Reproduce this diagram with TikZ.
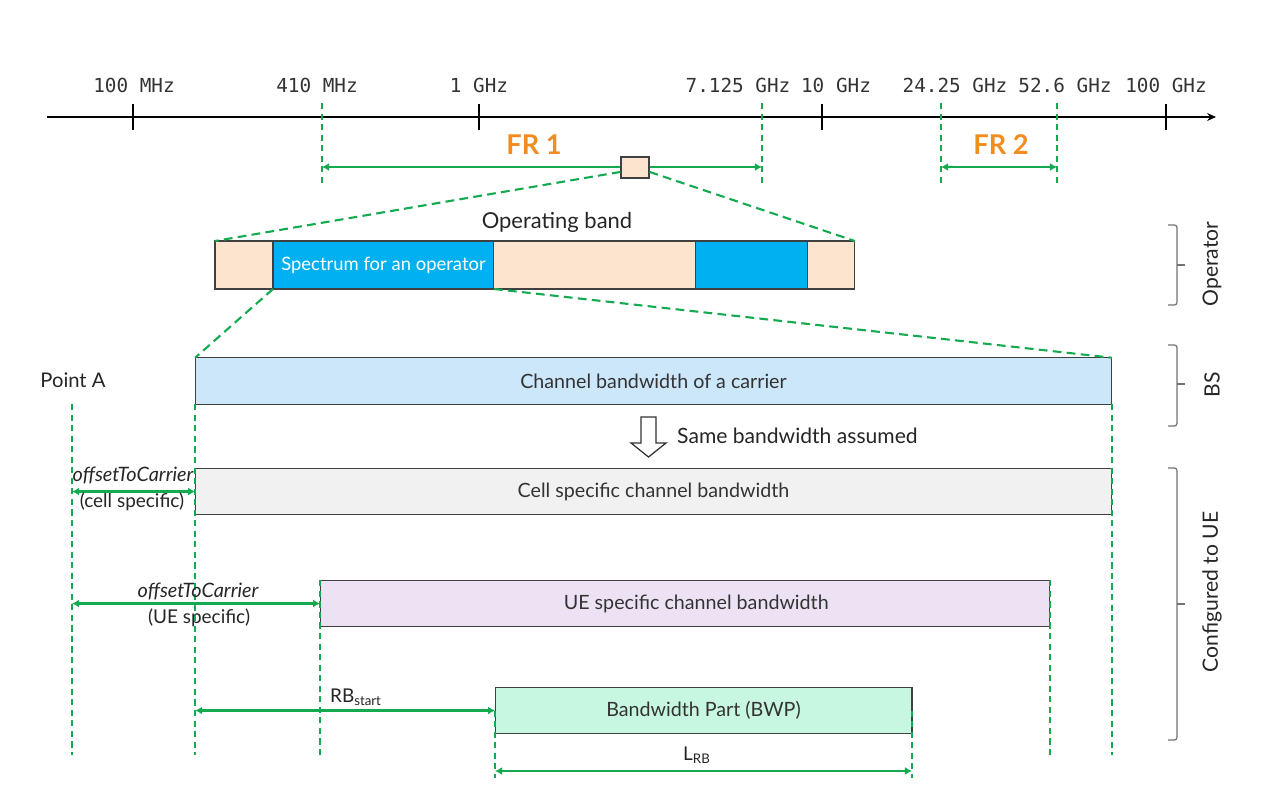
\documentclass[tikz,border=0pt]{standalone}
\usepackage{fontspec}
\setmainfont{Lato}
\newfontfamily\axfont{DejaVu Sans Mono}
\usetikzlibrary{calc, positioning, arrows.meta}

\definecolor{gline}{RGB}{20,170,80}
\definecolor{frorange}{RGB}{242,140,30}
\definecolor{peach}{RGB}{252,228,206}
\definecolor{opblue}{RGB}{0,176,240}
\definecolor{chblue}{RGB}{204,230,250}
\definecolor{cellgray}{RGB}{241,241,241}
\definecolor{uelilac}{RGB}{236,226,244}
\definecolor{bwpmint}{RGB}{199,247,224}
\definecolor{edge}{RGB}{64,64,64}

\tikzset{
  band/.style = {draw=edge, line width=0.6pt, minimum height=0.96cm,
      outer sep=0pt, inner sep=0pt},
  bwbox/.style = {draw=edge, line width=0.6pt, minimum height=0.93cm,
      outer sep=0pt, text=black!80, font=\fontsize{11.2}{13}\selectfont},
  guide/.style = {gline, line width=1.2pt, dash pattern=on 3.5pt off 2.5pt},
  zoomline/.style = {gline, line width=1.2pt, dash pattern=on 5pt off 3pt},
  dim/.style = {gline, line width=1.3pt,
      {Latex[length=4pt,width=4.5pt]}-{Latex[length=4pt,width=4.5pt]}},
  axlab/.style = {text=black!80, font=\axfont\fontsize{11}{13}\selectfont},
  frlab/.style = {text=frorange, font=\fontsize{15.5}{18}\selectfont\bfseries},
  biglab/.style = {text=black!85, font=\fontsize{12}{14}\selectfont},
  sidelab/.style = {text=black!85, rotate=90, font=\fontsize{12}{14}\selectfont},
  smalllab/.style = {text=black!85, inner sep=1pt, font=\fontsize{10.8}{12}\selectfont},
  offlab/.style = {smalllab, font=\fontsize{11.3}{13}\selectfont\itshape},
  bracket/.style = {draw=black!55, line width=0.7pt, rounded corners=1.5pt}
}

\begin{document}
\begin{tikzpicture}[x=0.02cm, y=-0.02cm]
\useasboundingbox (0,0) rectangle (1280,792);

% frequency axis
\coordinate (axL) at (47,117);
\coordinate (axR) at (1216,117);
\draw[line width=0.9pt, -{Stealth[length=5pt,width=4.5pt]}] (axL) -- (axR);
\foreach \x in {133,479,822,1166}
  \draw[line width=0.9pt] (\x,104) -- (\x,130);
\foreach \x/\lab in {134/100 MHz, 317/410 MHz, 479/1 GHz, 738/7.125 GHz,
    836/10 GHz, 955/24.25 GHz, 1065/52.6 GHz, 1166/100 GHz}
  \node[axlab] (f\x) at (\x,85) {\lab};

% FR1 / FR2
\foreach \x in {322,762,941,1057}
  \draw[guide] (\x,103) -- (\x,183);
\coordinate (fr1L) at (322,167);
\coordinate (fr1R) at (762,167);
\coordinate (fr2L) at (941,167);
\coordinate (fr2R) at (1057,167);
\draw[dim] (fr1L) -- (fr1R);
\draw[dim] (fr2L) -- (fr2R);
\node[frlab] (fr1) at (534,145) {FR 1};
\node[frlab] (fr2) at (1001,145) {FR 2};
\node[draw=edge, fill=peach, line width=0.6pt, inner sep=0pt,
    minimum width=0.56cm, minimum height=0.42cm] (zoombox) at (635,167.5) {};

% operating band
\node[biglab, font=\fontsize{12.5}{14}\selectfont] (opband) at (557,222) {Operating band};
\node[band, fill=peach, minimum width=1.16cm] (seg1) at (244,265) {};
\node[band, fill=opblue, minimum width=4.42cm, right=0pt of seg1, text=white,
    font=\fontsize{10.5}{12}\selectfont] (seg2) {Spectrum for an operator};
\node[band, fill=peach, minimum width=4.04cm, right=0pt of seg2] (seg3) {};
\node[band, fill=opblue, minimum width=2.24cm, right=0pt of seg3] (seg4) {};
\node[band, fill=peach, minimum width=0.94cm, right=0pt of seg4] (seg5) {};

% bandwidths
\node[bwbox, fill=chblue, minimum width=18.34cm] (chan) at (653.5,381) {Channel bandwidth of a carrier};
\node[bwbox, fill=cellgray, minimum width=18.34cm] (cell) at (653.5,491.5) {Cell specific channel bandwidth};
\node[bwbox, fill=uelilac, minimum width=14.6cm] (ue) at (685,603.5) {\hspace{0.45cm}UE specific channel bandwidth};
\node[bwbox, fill=bwpmint, minimum width=8.34cm] (bwp) at (703.5,710.5) {Bandwidth Part (BWP)\hspace{0.35cm}};

\draw[zoomline] ($(zoombox.south west)!.3!(zoombox.north west)$) -- (seg1.north west);
\draw[zoomline] ($(zoombox.south east)!.3!(zoombox.north east)$) -- (seg5.north east);
\draw[zoomline] (seg2.south west) -- (chan.north west);
\draw[zoomline] (seg2.south east) -- (chan.north east);

\node[biglab, font=\fontsize{11.5}{13}\selectfont] (pointA) at (73,380) {Point A};
\coordinate (pA) at (72,404);
\coordinate (bot) at (0,755);
\coordinate (lbot) at (0,778);
\coordinate (lrb) at (0,771);

\draw[guide] (pA) -- (pA |- bot);
\draw[guide] (chan.south west) -- (chan.south west |- bot);
\draw[guide] (chan.south east) -- (chan.south east |- bot);
\draw[guide] (ue.north west) -- (ue.north west |- bot);
\draw[guide] (ue.north east) -- (ue.north east |- bot);
\draw[guide] (bwp.west) -- (bwp.west |- lbot);
\draw[guide] (bwp.east) -- (bwp.east |- lbot);

\draw[dim] (pA |- cell.west) -- (cell.west);
\draw[dim] (pA |- ue.west) -- (ue.west);
\draw[dim] (chan.south west |- bwp.west) -- (bwp.west);
\draw[dim] (bwp.west |- lrb) -- (bwp.east |- lrb);

\node[offlab] (off1) at (133,475) {offsetToCarrier};
\node[smalllab] (cellspec) at (132,502) {(cell specific)};
\node[offlab] (off2) at (198,591) {offsetToCarrier};
\node[smalllab] (uespec) at (199,618) {(UE specific)};
\node[smalllab] (rbstart) at (356,697) {RB\textsubscript{start}};
\node[smalllab] (lrblab) at (697,755) {L\textsubscript{RB}};

% same bandwidth
\draw[black!80, line width=0.7pt, fill=white] (641,417) -- (656,417) -- (656,443)
  -- (666,443) -- (648.5,457) -- (631,443) -- (641,443) -- cycle;
\node[biglab, anchor=west] (same) at (671,436) {Same bandwidth assumed};

% right brackets
\foreach \t/\m/\b/\c/\nm/\lab in {225/265/305/264/oper/Operator,
    345/384/426/385/bs/BS, 468/604/740/592/cfg/Configured to UE} {
  \draw[bracket] (1168,\t) -- (1177,\t) -- (1177,\b) -- (1168,\b);
  \draw[bracket] (1177,\m) -- (1185,\m);
  \node[sidelab] (\nm) at (1212,\c) {\lab};
}
\end{tikzpicture}
\end{document}
